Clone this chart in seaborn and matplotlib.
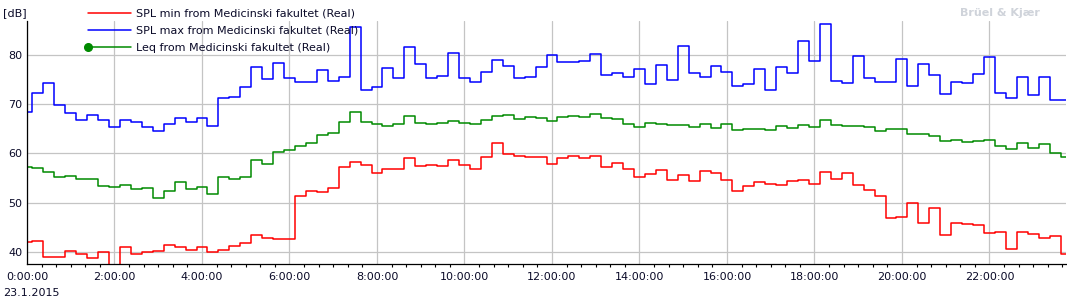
import numpy as np
import pandas as pd
import matplotlib
matplotlib.use("Agg")
import matplotlib.pyplot as plt
import seaborn as sns
from matplotlib.lines import Line2D
from matplotlib.legend_handler import HandlerLine2D
from matplotlib.ticker import MultipleLocator, FixedLocator, FixedFormatter

# ---- data: 15-minute samples, 23.1.2015 ----
time_h = np.arange(96) * 0.25  # sample times in hours (0:00 ... 23:45)

spl_max = [68.4, 72.3, 74.3, 69.7, 68.2, 66.8, 67.8, 66.8, 65.4, 66.8, 66.3, 65.4,
           64.6, 66.0, 67.2, 66.4, 67.2, 65.6, 71.1, 71.3, 73.4, 77.4, 75.0, 78.2,
           75.3, 74.5, 74.5, 76.8, 74.7, 75.4, 85.5, 72.9, 73.4, 77.2, 75.3, 81.6,
           78.0, 75.3, 75.7, 80.4, 75.2, 74.5, 76.5, 78.8, 77.6, 75.2, 75.5, 77.4,
           80.0, 78.4, 78.4, 78.6, 80.2, 75.9, 76.3, 75.5, 77.0, 74.1, 77.8, 74.9,
           81.8, 76.3, 75.5, 77.6, 76.5, 73.6, 74.1, 77.1, 72.9, 77.4, 76.3, 82.8,
           78.6, 86.1, 74.7, 74.3, 79.8, 75.3, 74.5, 74.5, 79.0, 73.6, 78.0, 75.9,
           72.1, 74.5, 74.3, 76.1, 79.6, 72.3, 71.1, 75.5, 71.9, 75.5, 70.7, 70.7]

leq = [57.3, 57.1, 56.2, 55.2, 55.4, 54.8, 54.8, 53.4, 53.2, 53.6, 52.8, 53.0,
       51.0, 52.4, 54.2, 52.8, 53.2, 51.8, 55.2, 54.8, 55.2, 58.7, 57.9, 60.3,
       60.7, 61.4, 62.0, 63.6, 64.2, 66.4, 68.4, 66.4, 66.0, 65.6, 66.0, 67.6,
       66.2, 66.0, 66.2, 66.6, 66.2, 66.0, 66.8, 67.6, 67.8, 67.0, 67.4, 67.2,
       66.6, 67.4, 67.6, 67.4, 68.0, 67.2, 67.0, 66.0, 65.4, 66.2, 66.0, 65.8,
       65.8, 65.4, 66.0, 65.2, 66.0, 64.8, 65.0, 65.0, 64.8, 65.6, 65.2, 65.8,
       65.4, 66.8, 65.8, 65.6, 65.6, 65.4, 64.6, 65.0, 65.0, 63.8, 63.8, 63.4,
       62.5, 62.7, 62.3, 62.5, 62.7, 61.5, 60.9, 62.1, 61.1, 61.9, 60.1, 59.3]

spl_min = [42.0, 42.2, 39.0, 39.0, 40.2, 39.6, 38.8, 40.0, 36.0, 41.0, 39.6, 40.0,
           40.2, 41.4, 41.0, 40.4, 41.0, 40.0, 40.4, 41.2, 41.8, 43.4, 42.8, 42.6,
           42.6, 51.3, 52.4, 52.2, 53.0, 57.3, 58.3, 57.7, 56.0, 56.9, 56.9, 59.1,
           57.5, 57.7, 57.5, 58.7, 57.7, 56.9, 59.3, 62.1, 59.9, 59.5, 59.3, 59.3,
           57.9, 59.1, 59.5, 59.1, 59.5, 57.3, 58.1, 56.9, 55.2, 55.8, 56.6, 54.6,
           55.6, 54.4, 56.4, 56.0, 54.6, 52.4, 53.4, 54.2, 53.8, 53.6, 54.4, 54.6,
           53.8, 56.2, 54.8, 56.0, 53.6, 52.6, 51.3, 46.9, 47.1, 50.0, 45.9, 48.9,
           43.4, 45.9, 45.7, 45.5, 43.9, 44.1, 40.6, 44.1, 43.7, 42.8, 43.2, 39.6]

series_labels = ["SPL min from Medicinski fakultet (Real)",
                 "SPL max from Medicinski fakultet (Real)",
                 "Leq from Medicinski fakultet (Real)"]
x_tick_pos = [0, 2, 4, 6, 8, 10, 12, 14, 16, 18, 20, 22]
x_tick_labels = ["0:00:00", "2:00:00", "4:00:00", "6:00:00", "8:00:00", "10:00:00",
                 "12:00:00", "14:00:00", "16:00:00", "18:00:00", "20:00:00", "22:00:00"]
y_ticks = [40, 50, 60, 70, 80]

df = pd.DataFrame({"time": time_h, "min": spl_min, "max": spl_max, "leq": leq})

sns.set_style("white")
plt.rcParams["font.family"] = ["DejaVu Sans"]

W, H = 1067, 302
fig = plt.figure(figsize=(W / 100, H / 100), dpi=100)
ax = fig.add_axes([27 / W, 1 - 264 / H, (1066 - 27) / W, (264 - 21) / H])

col_min, col_max, col_leq = "#ff0000", "#0000ff", "#008a00"
lw = 1.1
sns.lineplot(data=df, x="time", y="max", color=col_max, lw=lw, drawstyle="steps-mid",
             estimator=None, ax=ax, legend=False)
sns.lineplot(data=df, x="time", y="leq", color=col_leq, lw=lw, drawstyle="steps-mid",
             estimator=None, ax=ax, legend=False)
sns.lineplot(data=df, x="time", y="min", color=col_min, lw=lw, drawstyle="steps-mid",
             estimator=None, ax=ax, legend=False)

ax.set_xlim(0, 23.75)
ax.set_ylim(37.55, 86.8)
ax.set_xlabel("")
ax.set_ylabel("")

ax.xaxis.set_major_locator(FixedLocator(x_tick_pos))
ax.xaxis.set_major_formatter(FixedFormatter(x_tick_labels))
ax.xaxis.set_minor_locator(MultipleLocator(1 / 3))
ax.set_yticks(y_ticks)

tick_col = "#0a0a28"
ax.tick_params(axis="x", which="major", direction="out", length=3.5, width=0.8,
               labelsize=8, pad=2.5, colors="black", labelcolor=tick_col)
ax.tick_params(axis="x", which="minor", direction="out", length=2.2, width=0.8,
               colors="black", bottom=True)
ax.tick_params(axis="y", length=0, labelsize=8, pad=3.5, labelcolor=tick_col)

ax.grid(True, which="major", color="#c4c4c4", lw=0.9)
ax.set_axisbelow(True)
for s in ["top", "right"]:
    ax.spines[s].set_visible(False)
for s in ["left", "bottom"]:
    ax.spines[s].set_color("black")
    ax.spines[s].set_linewidth(0.9)


class LeftMarkerHandler(HandlerLine2D):
    def create_artists(self, *args, **kwargs):
        arts = super().create_artists(*args, **kwargs)
        for a in arts:
            a.set_markevery([0])
        return arts


h_min = Line2D([], [], color=col_min, lw=lw)
h_max = Line2D([], [], color=col_max, lw=lw)
h_leq = Line2D([], [], color=col_leq, lw=lw, marker="o", ms=5.5)
fig.legend([h_min, h_max, h_leq], series_labels, loc="upper left",
           bbox_to_anchor=(88 / W, 1 - 8.5 / H), frameon=False, fontsize=8,
           borderpad=0, borderaxespad=0, handlelength=3.9, handletextpad=0.45,
           labelspacing=0.66, labelcolor=tick_col,
           handler_map={h_leq: LeftMarkerHandler()})

fig.text(3 / W, 1 - 13 / H, "[dB]", fontsize=8, color=tick_col, va="center", ha="left")
fig.text(3 / W, 1 - 293 / H, "23.1.2015", fontsize=8, color=tick_col, va="center", ha="left")
fig.text(1040 / W, 1 - 13 / H, "Brüel & Kjær", fontsize=8, color="#cfd3da",
         fontweight="bold", va="center", ha="right")

fig.savefig("out.png", dpi=100)
